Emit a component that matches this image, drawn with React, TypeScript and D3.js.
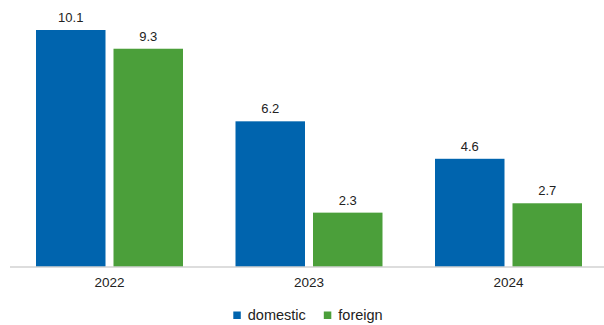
import React from "react";
import * as d3 from "d3";

const categories = ["2022", "2023", "2024"];
const seriesNames = ["domestic", "foreign"];
const domestic = [10.1, 6.2, 4.6];
const foreign = [9.3, 2.3, 2.7];
const colors = ["#0064ae", "#4b9f3a"];

const W = 604;
const H = 325;
const baseY = 266.5;

export default function App() {
  const x = d3.scaleBand<string>().domain(categories).range([9.75, 608.25]).paddingInner(0).paddingOuter(0);
  const y = d3.scaleLinear().domain([0, 10.1]).range([baseY, 30]);
  const groupW = 147;
  const inner = d3.scaleBand<string>().domain(seriesNames).range([0, groupW]).paddingInner(8 / 77.5);
  const off = (x.bandwidth() - groupW) / 2;
  const data = [domestic, foreign];
  const font = "'Liberation Sans', Arial, sans-serif";

  return (
    <svg width={W} height={H} style={{ position: "absolute", left: 0, top: 0 }} fontFamily={font}>
      {categories.map((c, i) => (
        <g key={c}>
          {seriesNames.map((s, j) => {
            const v = data[j][i];
            const bx = (x(c) as number) + off + (inner(s) as number);
            const by = y(v);
            return (
              <g key={s}>
                <rect x={bx} y={by} width={inner.bandwidth()} height={baseY - by} fill={colors[j]} />
                <text x={bx + inner.bandwidth() / 2} y={by - 8} textAnchor="middle" fontSize={13} fill="#222">
                  {v.toFixed(1)}
                </text>
              </g>
            );
          })}
          <text x={(x(c) as number) + x.bandwidth() / 2} y={287} textAnchor="middle" fontSize={13.5} fill="#222">
            {c}
          </text>
        </g>
      ))}
      <line x1={10} x2={604} y1={baseY + 0.5} y2={baseY + 0.5} stroke="#bbbbbb" strokeWidth={1} />
      {seriesNames.map((s, j) => {
        const lx = [233.3, 323.8][j];
        return (
          <g key={s}>
            <rect x={lx} y={311.5} width={7.5} height={7.5} fill={colors[j]} />
            <text x={lx + 14.5} y={319.5} fontSize={14.5} fill="#222">
              {s}
            </text>
          </g>
        );
      })}
    </svg>
  );
}
